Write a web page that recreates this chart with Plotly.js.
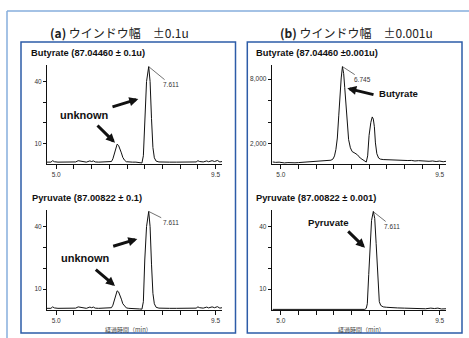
<!DOCTYPE html>
<html>
<head>
<meta charset="utf-8">
<script src="https://cdn.plot.ly/plotly-3.0.1.min.js"></script>
<style>html,body{margin:0;padding:0;background:#fff;}#chart{width:469px;height:338px;}</style>
</head>
<body>
<div id="chart"></div>
<script>
// ---- data ----
const timeButA = [4.74,4.85,4.90,4.95,5.05,5.20,5.40,5.55,5.62,5.68,5.75,5.85,5.95,6.00,6.05,6.10,6.20,6.35,6.50,6.56,6.60,6.64,6.68,6.72,6.76,6.80,6.84,6.88,6.93,6.98,7.05,7.15,7.25,7.35,7.42,7.46,7.50,7.55,7.611,7.65,7.69,7.73,7.77,7.82,7.90,8.00,8.20,8.40,8.60,8.80,8.95,9.00,9.05,9.15,9.25,9.30,9.40,9.47,9.55,9.62,9.68];
const intButA  = [0.9,0.9,1.6,1.1,0.9,0.9,0.9,1.0,1.6,1.4,1.0,0.9,1.5,1.2,1.5,1.0,0.9,0.9,0.9,1.2,2.5,5.0,8.0,9.6,9.0,7.5,5.4,3.2,1.8,1.1,0.9,0.9,0.9,0.6,0.5,4.0,24.0,40.0,47.2,40.0,22.0,8.0,3.0,1.4,1.0,0.9,0.9,0.9,0.9,0.9,1.0,1.6,1.2,1.0,1.5,1.1,1.6,1.2,1.7,1.0,1.2];

const timePyrA = [4.74,4.85,4.90,4.95,5.05,5.20,5.40,5.55,5.62,5.68,5.75,5.85,5.95,6.00,6.05,6.10,6.20,6.35,6.50,6.56,6.60,6.64,6.68,6.72,6.76,6.80,6.84,6.88,6.93,6.98,7.05,7.15,7.25,7.35,7.42,7.46,7.50,7.55,7.611,7.65,7.69,7.73,7.77,7.82,7.90,8.00,8.20,8.40,8.60,8.80,8.95,9.00,9.05,9.15,9.25,9.30,9.40,9.47,9.55,9.62,9.68];
const intPyrA  = [0.8,0.8,1.5,1.0,0.8,0.8,0.8,0.9,1.5,1.3,0.9,0.8,1.4,1.1,1.4,0.9,0.8,0.8,0.8,1.1,2.3,4.8,7.6,9.2,8.7,7.2,5.2,3.0,1.7,1.0,0.8,0.8,0.8,0.5,0.4,4.0,24.0,40.0,47.3,40.0,22.0,8.0,3.0,1.3,0.9,0.8,0.8,0.8,0.8,0.8,0.9,1.5,1.1,0.9,1.4,1.0,1.5,1.1,1.6,0.9,1.1];

const timeButB = [4.77,4.85,4.95,5.05,5.10,5.20,5.30,5.40,5.50,5.60,5.70,5.80,5.90,5.95,6.05,6.15,6.25,6.35,6.42,6.48,6.52,6.56,6.60,6.64,6.68,6.71,6.745,6.78,6.81,6.84,6.88,6.92,6.97,7.02,7.10,7.17,7.25,7.32,7.38,7.42,7.46,7.50,7.55,7.59,7.62,7.65,7.68,7.72,7.77,7.82,7.90,8.00,8.10,8.20,8.30,8.40,8.50,8.60,8.70,8.80,8.90,9.00,9.10,9.20,9.30,9.40,9.50,9.60,9.68];
const intButB  = [340,300,320,260,250,280,240,260,280,300,330,380,350,420,380,440,420,480,500,620,900,1500,2550,4600,6800,8100,9150,8500,7200,6000,3600,2400,1650,1300,1150,1000,700,520,380,330,900,2800,4000,4500,4300,3600,2100,1100,700,600,560,540,520,550,510,500,490,470,480,430,460,420,440,400,430,380,420,360,400];

const timePyrB = [4.77,5.00,5.50,6.00,6.50,7.00,7.38,7.42,7.45,7.49,7.53,7.57,7.62,7.66,7.70,7.73,7.76,7.79,7.83,7.90,8.00,8.10,8.30,8.50,8.70,8.90,9.10,9.25,9.35,9.45,9.55,9.68];
const intPyrB  = [0.3,0.3,0.3,0.3,0.3,0.3,0.3,0.8,3.0,17.0,32.0,43.0,47.3,44.0,32.0,20.0,9.0,4.0,2.2,1.5,1.3,1.1,1.0,0.9,0.8,0.6,0.6,0.9,0.7,0.9,0.5,0.6];

const xTickVals = [5.0,5.5,6.0,6.5,7.0,7.5,8.0,8.5,9.0,9.5];
const xTickText = ['5.0','','','','','','','','','9.5'];
const yTickValsSmall = [10,20,30,40];
const yTickTextSmall = ['10','','','40'];
const yTickValsLarge = [2000,4000,6000,8000];
const yTickTextLarge = ['2,000','','','8,000'];

const panelTitles = ['<b>(a)</b> ウインドウ幅　±0.1u', '<b>(b)</b> ウインドウ幅　±0.001u'];
const plotTitles = ['Butyrate (87.04460 ± 0.1u)', 'Butyrate (87.04460 ±0.001u)', 'Pyruvate (87.00822 ± 0.1)', 'Pyruvate (87.00822 ± 0.001)'];
const xAxisTitle = '経過時間（min）';
const peakTimes = [7.611, 6.745, 7.611, 7.611];
const peakHeights = [47.2, 9150, 47.3, 47.3];
const peakLabels = ['7.611', '6.745', '7.611', '7.611'];
const calloutTexts = ['unknown', 'unknown', 'Butyrate', 'Pyruvate'];

// ---- layout helpers ----
const W = 469, H = 338;
const X = v => v / W, Y = v => 1 - v / H;
const LAT = 'Liberation Sans, Arial, sans-serif';
const JP = 'Noto Sans CJK JP, sans-serif';

const line = {color: '#111', width: 1};
const traces = [
  {x: timeButA, y: intButA, xaxis: 'x', yaxis: 'y', mode: 'lines', line: line, hoverinfo: 'skip'},
  {x: timeButB, y: intButB, xaxis: 'x2', yaxis: 'y2', mode: 'lines', line: line, hoverinfo: 'skip'},
  {x: timePyrA, y: intPyrA, xaxis: 'x3', yaxis: 'y3', mode: 'lines', line: line, hoverinfo: 'skip'},
  {x: timePyrB, y: intPyrB, xaxis: 'x4', yaxis: 'y4', mode: 'lines', line: line, hoverinfo: 'skip'}
];

const tickFont = {family: LAT, size: 6.5, color: '#333'};
function xa(dom, anchor) {
  return {domain: dom, anchor: anchor, range: [4.74, 9.68], showline: true, linecolor: '#111', linewidth: 1,
    ticks: 'outside', ticklen: 4, tickwidth: 1, tickcolor: '#111', tickvals: xTickVals, ticktext: xTickText,
    tickfont: tickFont, showgrid: false, zeroline: false, fixedrange: true};
}
function ya(dom, anchor, range, tv, tt) {
  return {domain: dom, anchor: anchor, range: range, showline: true, linecolor: '#111', linewidth: 1,
    ticks: 'outside', ticklen: 3, tickwidth: 1, tickcolor: '#111', tickvals: tv, ticktext: tt,
    tickfont: tickFont, showgrid: false, zeroline: false, fixedrange: true};
}
const leftDom = [X(47), X(222)], rightDom = [X(271.7), X(446)];
const topDom = [Y(164), Y(65)], botDom = [Y(310), Y(210)];

const annotations = [];
// panel titles
annotations.push({xref: 'paper', yref: 'paper', x: X(119), y: Y(32), text: panelTitles[0], showarrow: false,
  font: {family: JP, size: 12, color: '#222'}, xanchor: 'center', yanchor: 'middle'});
annotations.push({xref: 'paper', yref: 'paper', x: X(356), y: Y(32), text: panelTitles[1], showarrow: false,
  font: {family: JP, size: 12, color: '#222'}, xanchor: 'center', yanchor: 'middle'});
// plot titles
const titlePos = [[29, 53.5], [254, 53.5], [30, 198.5], [254, 198.5]];
plotTitles.forEach((t, i) => annotations.push({xref: 'paper', yref: 'paper', x: X(titlePos[i][0]), y: Y(titlePos[i][1]),
  text: '<b>' + t + '</b>', showarrow: false, xanchor: 'left', yanchor: 'middle', font: {family: LAT, size: 9.3, color: '#111'}}));
// x axis titles (bottom plots)
annotations.push({xref: 'paper', yref: 'paper', x: X(128), y: Y(329), text: xAxisTitle, showarrow: false,
  font: {family: JP, size: 6, color: '#444'}, xanchor: 'center', yanchor: 'middle'});
annotations.push({xref: 'paper', yref: 'paper', x: X(361), y: Y(329), text: xAxisTitle, showarrow: false,
  font: {family: JP, size: 6, color: '#444'}, xanchor: 'center', yanchor: 'middle'});
// peak labels with leader lines
const axNames = [['x', 'y'], ['x2', 'y2'], ['x3', 'y3'], ['x4', 'y4']];
const leaderOff = [[22, 18], [20, 13], [22, 11], [19, 15]];
peakLabels.forEach((t, i) => annotations.push({xref: axNames[i][0], yref: axNames[i][1], x: peakTimes[i], y: peakHeights[i],
  text: t, showarrow: true, arrowhead: 0, arrowwidth: 0.7, arrowcolor: '#333', ax: leaderOff[i][0], ay: leaderOff[i][1],
  font: {family: LAT, size: 6.5, color: '#333'}, standoff: 0}));
// callout texts
const calloutPos = [[84, 115], [85, 257.5], [398, 93.5], [328, 222.5]];
const calloutSize = [11, 11, 9.6, 9.6];
calloutTexts.forEach((t, i) => annotations.push({xref: 'paper', yref: 'paper', x: X(calloutPos[i][0]), y: Y(calloutPos[i][1]),
  text: '<b>' + t + '</b>', showarrow: false, xanchor: 'center', yanchor: 'middle', font: {family: LAT, size: calloutSize[i], color: '#111'}}));
// black arrows: [tailX, tailY, tipX, tipY] in page pixels
const arrows = [[111, 107.3, 138.3, 99], [96, 124, 115, 142.7], [111.7, 246.7, 137.3, 239], [94.3, 268.3, 115, 286],
  [375, 95, 347.3, 88.3], [346.7, 230, 365, 247.7]];
arrows.forEach(a => annotations.push({xref: 'paper', yref: 'paper', x: X(a[2]), y: Y(a[3]), ax: a[0] - a[2], ay: a[1] - a[3],
  text: '', showarrow: true, arrowhead: 2, arrowsize: 0.6, arrowwidth: 3, arrowcolor: '#111', standoff: 0}));

const shapes = [
  {type: 'line', xref: 'paper', yref: 'paper', x0: X(7), y0: Y(11), x1: X(469), y1: Y(11), line: {color: '#86aedd', width: 1.5}},
  {type: 'line', xref: 'paper', yref: 'paper', x0: X(7), y0: Y(11), x1: X(7), y1: Y(338), line: {color: '#86aedd', width: 1.5}},
  {type: 'rect', xref: 'paper', yref: 'paper', x0: X(21), y0: Y(42), x1: X(235.5), y1: Y(333), line: {color: '#2d5ca8', width: 1.5}},
  {type: 'rect', xref: 'paper', yref: 'paper', x0: X(247.3), y0: Y(42), x1: X(462), y1: Y(333), line: {color: '#2d5ca8', width: 1.5}}
];

const layout = {
  width: W, height: H, margin: {l: 0, r: 0, t: 0, b: 0}, showlegend: false,
  paper_bgcolor: '#fff', plot_bgcolor: 'rgba(0,0,0,0)',
  xaxis: xa(leftDom, 'y'), yaxis: ya(topDom, 'x', [0, 48], yTickValsSmall, yTickTextSmall),
  xaxis2: xa(rightDom, 'y2'), yaxis2: ya(topDom, 'x2', [150, 9300], yTickValsLarge, yTickTextLarge),
  xaxis3: xa(leftDom, 'y3'), yaxis3: ya(botDom, 'x3', [0, 48], yTickValsSmall, yTickTextSmall),
  xaxis4: xa(rightDom, 'y4'), yaxis4: ya(botDom, 'x4', [0, 48], yTickValsSmall, yTickTextSmall),
  annotations: annotations, shapes: shapes
};
Plotly.newPlot('chart', traces, layout, {displayModeBar: false, staticPlot: true});
</script>
</body>
</html>
